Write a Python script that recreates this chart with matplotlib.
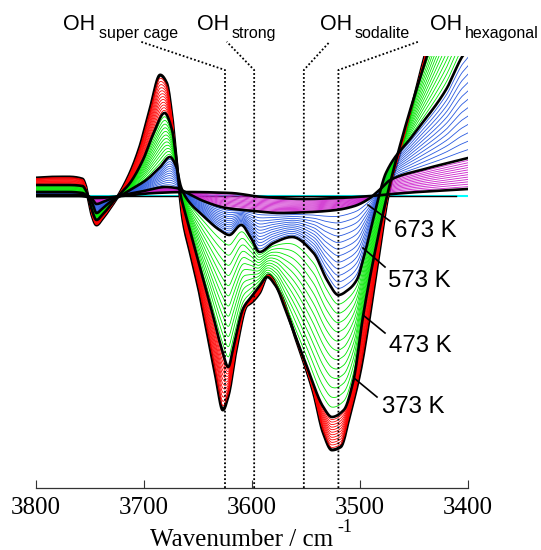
import numpy as np
import matplotlib
matplotlib.use('Agg')
import matplotlib.pyplot as plt
from matplotlib.lines import Line2D

# spectra drawn in black (wavenumber / cm-1, absorbance difference)
wn_373 = [3800, 3780, 3770, 3757, 3754, 3751, 3748, 3744, 3738, 3730, 3724, 3713, 3704, 3694,
          3685, 3679, 3674, 3670, 3667, 3664, 3656, 3648, 3640, 3633, 3627, 3622, 3614, 3605,
          3600, 3593, 3585, 3574, 3559, 3543, 3534, 3526, 3518, 3509, 3500, 3491, 3482, 3474,
          3460, 3440, 3420, 3400]
ab_373 = [0.18, 0.19, 0.19, 0.17, 0.10, -0.05, -0.20, -0.29, -0.22, -0.10, 0.0, 0.23, 0.49, 0.89,
          1.21, 1.13, 0.79, 0.36, 0.03, -0.24, -0.62, -1.00, -1.45, -1.84, -2.14, -2.00, -1.50, -1.10,
          -1.06, -0.97, -0.79, -0.97, -1.44, -1.97, -2.37, -2.54, -2.51, -2.17, -1.77, -1.20, -0.55, 0.0,
          0.55, 1.40, 2.20, 3.00]

wn_473 = [3800, 3770, 3757, 3754, 3751, 3748, 3744, 3738, 3730, 3724, 3713, 3701, 3691, 3681,
          3674, 3670, 3667, 3661, 3648, 3636, 3627, 3622, 3617, 3608, 3600, 3593, 3586, 3578,
          3568, 3549, 3534, 3526, 3515, 3506, 3497, 3486, 3475, 3460, 3438, 3420, 3400]
ab_473 = [0.11, 0.11, 0.10, 0.06, -0.03, -0.15, -0.24, -0.18, -0.08, 0.0, 0.13, 0.36, 0.63, 0.83,
          0.66, 0.36, 0.06, -0.20, -0.72, -1.20, -1.57, -1.71, -1.50, -1.12, -1.00, -0.90, -0.81, -0.90,
          -1.17, -1.71, -2.11, -2.21, -2.14, -1.84, -1.19, -0.55, 0.0, 0.62, 1.40, 2.00, 2.60]

wn_573 = [3800, 3770, 3757, 3752, 3748, 3744, 3738, 3730, 3722, 3713, 3698, 3685, 3676, 3670,
          3666, 3662, 3655, 3648, 3630, 3621, 3610, 3601, 3593, 3580, 3563, 3543, 3530, 3520,
          3510, 3503, 3494, 3485, 3476, 3450, 3420, 3405, 3400]
ab_573 = [0.04, 0.04, 0.03, -0.01, -0.07, -0.17, -0.12, -0.05, 0.0, 0.06, 0.16, 0.29, 0.39, 0.29,
          0.10, 0.0, -0.10, -0.17, -0.34, -0.39, -0.29, -0.42, -0.56, -0.47, -0.41, -0.57, -0.85, -0.99,
          -0.93, -0.84, -0.51, -0.11, 0.23, 0.62, 1.07, 1.40, 1.47]

wn_673 = [3800, 3760, 3752, 3748, 3744, 3736, 3726, 3715, 3700, 3680, 3670, 3660, 3645, 3624,
          3598, 3574, 3545, 3522, 3505, 3492, 3480, 3472, 3440, 3400]
ab_673 = [0.01, 0.01, 0.0, -0.03, -0.08, -0.05, -0.01, 0.02, 0.05, 0.09, 0.08, 0.03, -0.05, -0.12,
          -0.15, -0.17, -0.16, -0.14, -0.10, -0.03, 0.08, 0.16, 0.27, 0.38]

wn_773 = [3800, 3760, 3744, 3720, 3690, 3660, 3620, 3590, 3550, 3520, 3490, 3470, 3440, 3400]
ab_773 = [0.0, 0.0, -0.02, 0.0, 0.03, 0.04, 0.03, -0.01, -0.03, -0.02, 0.0, 0.02, 0.045, 0.07]

temps = [373, 473, 573, 673, 773]
# colour of the spectra recorded between two black ones, and how many there are
group_colors = ['#ff0000', '#00e800', '#2a5ae0', '#cc22cc']
n_between = [12, 12, 12, 12]

band_wn = [3625, 3598, 3552, 3520]
band_names = ['super cage', 'strong', 'sodalite', 'hexagonal']

W, H = 541, 550


def fig_xy(x, y):
    # pixel position -> figure fraction
    return x / W, 1 - y / H


def pchip(x, y, xs):
    x = np.asarray(x, float)
    y = np.asarray(y, float)
    o = np.argsort(x)
    x, y = x[o], y[o]
    h = np.diff(x)
    d = np.diff(y) / h
    m = np.zeros_like(y)
    for k in range(1, len(x) - 1):
        if d[k - 1] * d[k] > 0:
            w1 = 2 * h[k] + h[k - 1]
            w2 = h[k] + 2 * h[k - 1]
            m[k] = (w1 + w2) / (w1 / d[k - 1] + w2 / d[k])
    m[0], m[-1] = d[0], d[-1]
    i = np.clip(np.searchsorted(x, xs) - 1, 0, len(x) - 2)
    t = (xs - x[i]) / h[i]
    return ((2 * t**3 - 3 * t**2 + 1) * y[i] + (t**3 - 2 * t**2 + t) * h[i] * m[i]
            + (-2 * t**3 + 3 * t**2) * y[i + 1] + (t**3 - t**2) * h[i] * m[i + 1])


xs = np.linspace(3400, 3800, 1601)
black = [pchip(w, a, xs) for w, a in [(wn_373, ab_373), (wn_473, ab_473), (wn_573, ab_573),
                                       (wn_673, ab_673), (wn_773, ab_773)]]

fig = plt.figure(figsize=(W / 100, H / 100), dpi=100)
ax = fig.add_axes([36 / W, 62 / H, 432 / W, 432 / H])
ax.set_xlim(3800, 3400)
ax.set_ylim(-2.92, 1.40)

# zero line
ax.axhline(0, color='#00ffff', lw=1.5, zorder=1)
ax.plot([3800, 3411], [0, 0], color='black', lw=1.0, zorder=1.5)

# intermediate spectra, hottest group first
for g in [3, 2, 1, 0]:
    lo, hi = black[g], black[g + 1]
    n = n_between[g]
    for j in range(1, n + 1):
        f = j / (n + 1)
        ax.plot(xs, (1 - f) * lo + f * hi, color=group_colors[g], lw=0.6, zorder=2)

# coldest spectrum sits under the red ones, the others on top
ax.plot(xs, black[0], color='black', lw=2.2, zorder=1.8)
for c in black[1:]:
    ax.plot(xs, c, color='black', lw=1.9, zorder=3)

# band positions
for w, wtop in zip(band_wn, [3703, 3623.4, 3528, 3446]):
    ax.plot([w, w, wtop], [-2.92, 1.26, 1.543], color='black', lw=1.3,
            ls=(0, (1, 1.2)), clip_on=False, zorder=4)

for s in ['top', 'left', 'right']:
    ax.spines[s].set_visible(False)
ax.spines['bottom'].set_color('#333333')
ax.spines['bottom'].set_linewidth(0.9)
ax.set_yticks([])
ax.set_xticks([3800, 3700, 3600, 3500, 3400])
ax.tick_params(axis='x', direction='in', length=5.5, width=0.8, color='#333333',
               pad=6.5, labelsize=18)
for lab in ax.get_xticklabels():
    lab.set_fontfamily('Liberation Serif')

# OH labels
for (xo, xs_), name in zip([(63, 99), (197, 232), (320, 355), (430, 465)], band_names):
    fig.text(*fig_xy(xo, 30), 'OH', fontsize=15.5, family='Liberation Sans', va='baseline')
    fig.text(*fig_xy(xs_, 38.3), name, fontsize=11.5, family='Liberation Sans', va='baseline')

# temperature labels with leaders
labels = [(394, 231, (368, 205), (390, 221)),
          (388, 281, (363, 248), (385, 267)),
          (389, 346, (363, 315), (385, 333)),
          (382, 407, (354, 378), (377, 397))]
for t, (x, y, p0, p1) in zip([673, 573, 473, 373], labels):
    fig.text(*fig_xy(x, y), f'{t} K', fontsize=17.3, family='Liberation Sans', va='center')
    a, b = fig_xy(*p0)
    c, d = fig_xy(*p1)
    fig.add_artist(Line2D([a, c], [b, d], color='black', lw=1.2))

fig.text(*fig_xy(150.5, 546), 'Wavenumber / cm', fontsize=18, family='Liberation Serif',
         va='baseline')
fig.text(*fig_xy(337, 532.5), '-1', fontsize=13, family='Liberation Serif', va='baseline')

fig.savefig('out.png', dpi=100)
